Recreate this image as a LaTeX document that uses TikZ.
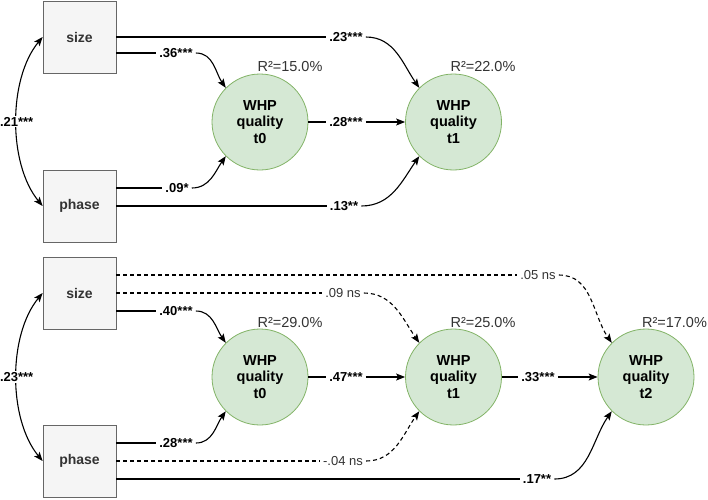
\documentclass[tikz,border=0pt]{standalone}
\usepackage{fontspec}
\setmainfont{Liberation Sans}
\usetikzlibrary{arrows.meta}
\definecolor{boxfill}{HTML}{F5F5F5}
\definecolor{boxdraw}{HTML}{666666}
\definecolor{boxtext}{HTML}{333333}
\definecolor{cfill}{HTML}{D5E8D4}
\definecolor{cdraw}{HTML}{82B366}
\definecolor{rtext}{HTML}{333333}
\tikzset{
  varbox/.style={draw=boxdraw, fill=boxfill, minimum width=73pt, minimum height=72pt, inner sep=0pt,
    font=\fontsize{14}{16}\selectfont\bfseries, text=boxtext, line width=0.8pt},
  latent/.style={circle, draw=cdraw, fill=cfill, minimum size=96pt, inner sep=0pt, align=center,
    font=\fontsize{14.5}{16.5}\selectfont\bfseries, line width=0.8pt},
  coef/.style={fill=white, inner sep=3pt, font=\fontsize{13}{14}\selectfont\bfseries},
  nscoef/.style={fill=white, inner sep=3pt, font=\fontsize{13}{14}\selectfont, text=rtext},
  rsq/.style={font=\fontsize{14.5}{15}\selectfont, text=rtext},
  plain/.style={line width=1.1pt, black},
  conn/.style={line width=1.1pt, black, -{Stealth[length=9pt,width=7pt,inset=2pt]}},
  both/.style={line width=1.1pt, black, {Stealth[length=9pt,width=7pt,inset=2pt]}-{Stealth[length=9pt,width=7pt,inset=2pt]}},
  nsline/.style={dash pattern=on 4pt off 3pt},
}
\begin{document}
\begin{tikzpicture}[x=1pt,y=-1pt]
\useasboundingbox (0,0) rectangle (708,499);

% ---------------- top model ----------------
\node[varbox] (size1) at (79.5,37) {size};
\node[varbox] (phase1) at (79.5,206) {phase};
\node[latent] (t0a) at (260,122) {WHP\\quality\\t0};
\node[latent] (t1a) at (453.5,122) {WHP\\quality\\t1};
\node[rsq] (r0a) at (290,67) {R²=15.0\%};
\node[rsq] (r1a) at (483,67) {R²=22.0\%};

\draw[both] (size1.west) .. controls (8,79) and (8,164) .. (phase1.west)
  node[coef, pos=0.5, inner sep=1pt] (c21) {.21***};

\node[coef] (c23a) at (346,37) {.23***};
\draw[plain] (size1.east) -- (c23a.west);
\draw[conn] (c23a.east) to[out=0,in=125] (t1a.135);

\node[coef] (c36) at (176,53) {.36***};
\draw[plain] ([yshift=-16pt]size1.east) -- (c36.west);
\draw[conn] (c36.east) to[out=0,in=125] (t0a.135);

\node[coef] (c28a) at (346,122) {.28***};
\draw[plain] (t0a.east) -- (c28a.west);
\draw[conn] (c28a.east) -- (t1a.west);

\node[coef] (c09) at (177,188) {.09*};
\draw[plain] ([yshift=18pt]phase1.east) -- (c09.west);
\draw[conn] (c09.east) to[out=0,in=235] (t0a.225);

\node[coef] (c13) at (344,206) {.13**};
\draw[plain] (phase1.east) -- (c13.west);
\draw[conn] (c13.east) to[out=0,in=235] (t1a.225);

% ---------------- bottom model ----------------
\node[varbox] (size2) at (79.5,293) {size};
\node[varbox] (phase2) at (79.5,461) {phase};
\node[latent] (t0b) at (260,377) {WHP\\quality\\t0};
\node[latent] (t1b) at (453.5,377) {WHP\\quality\\t1};
\node[latent] (t2b) at (646,377) {WHP\\quality\\t2};
\node[rsq] (r0b) at (290,322) {R²=29.0\%};
\node[rsq] (r1b) at (483,322) {R²=25.0\%};
\node[rsq] (r2b) at (674.5,322) {R²=17.0\%};

\draw[both] (size2.west) .. controls (8,335) and (8,419) .. (phase2.west)
  node[coef, pos=0.5, inner sep=1pt] (c23b) {.23***};

\node[nscoef] (c05) at (538,275) {.05 ns};
\draw[plain,nsline] ([yshift=18pt]size2.east) -- (c05.west);
\draw[conn,nsline] (c05.east) to[out=0,in=125] (t2b.135);

\node[nscoef] (c09ns) at (343,293) {.09 ns};
\draw[plain,nsline] (size2.east) -- (c09ns.west);
\draw[conn,nsline] (c09ns.east) to[out=0,in=125] (t1b.135);

\node[coef] (c40) at (176,311) {.40***};
\draw[plain] ([yshift=-18pt]size2.east) -- (c40.west);
\draw[conn] (c40.east) to[out=0,in=125] (t0b.135);

\node[coef] (c47) at (346,377) {.47***};
\draw[plain] (t0b.east) -- (c47.west);
\draw[conn] (c47.east) -- (t1b.west);

\node[coef] (c33) at (538,377) {.33***};
\draw[plain] (t1b.east) -- (c33.west);
\draw[conn] (c33.east) -- (t2b.west);

\node[coef] (c28b) at (176,443) {.28***};
\draw[plain] ([yshift=18pt]phase2.east) -- (c28b.west);
\draw[conn] (c28b.east) to[out=0,in=235] (t0b.225);

\node[nscoef] (c04) at (343,461) {-.04 ns};
\draw[plain,nsline] (phase2.east) -- (c04.west);
\draw[conn,nsline] (c04.east) to[out=0,in=235] (t1b.225);

\node[coef] (c17) at (537,479) {.17**};
\draw[plain] ([yshift=-18pt]phase2.east) -- (c17.west);
\draw[conn] (c17.east) to[out=0,in=235] (t2b.225);
\end{tikzpicture}
\end{document}
